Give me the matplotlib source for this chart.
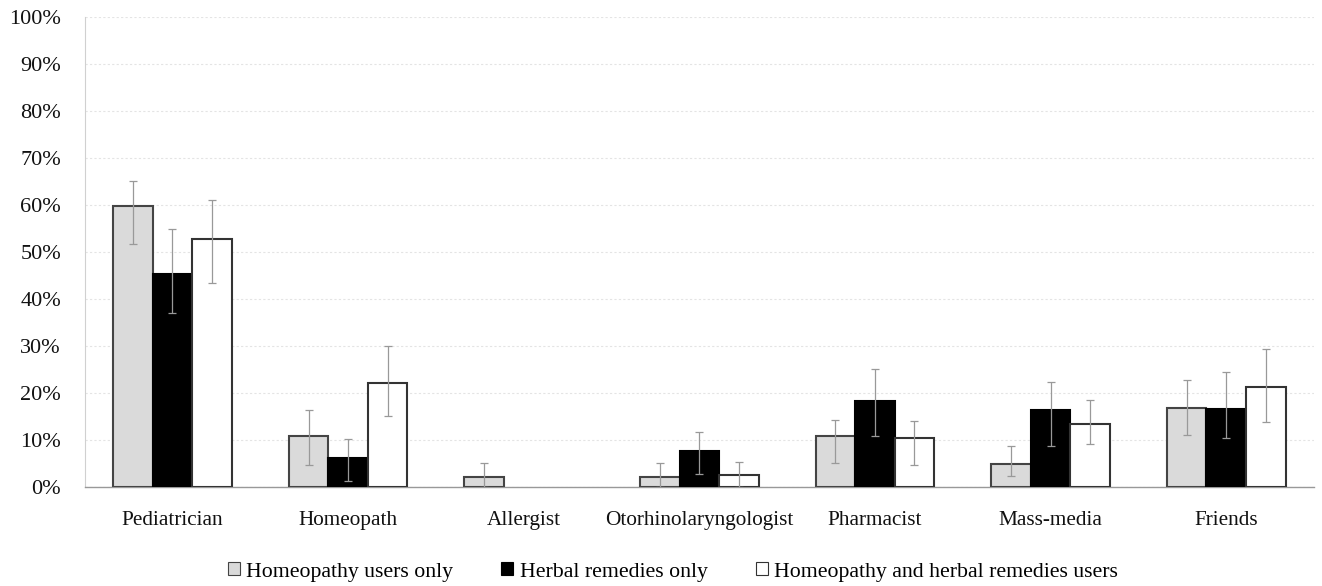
import numpy as np
import matplotlib.pyplot as plt
from matplotlib.ticker import PercentFormatter

categories = ["Pediatrician", "Homeopath", "Allergist", "Otorhinolaryngologist",
              "Pharmacist", "Mass-media", "Friends"]
series_names = ["Homeopathy users only", "Herbal remedies only",
                "Homeopathy and herbal remedies users"]

homeo = [59.8, 10.8, 2.1, 2.2, 10.8, 4.9, 16.9]
homeo_lo = [51.8, 4.7, 0.0, 0.0, 5.1, 2.4, 11.1]
homeo_hi = [65.2, 16.3, 5.1, 5.2, 14.3, 8.8, 22.7]

herbal = [45.4, 6.1, 0.0, 7.6, 18.3, 16.3, 16.5]
herbal_lo = [37.0, 1.3, 0.0, 2.8, 10.8, 8.8, 10.4]
herbal_hi = [54.9, 10.2, 0.0, 11.8, 25.2, 22.3, 24.5]

both = [52.7, 22.2, 0.0, 2.6, 10.4, 13.3, 21.3]
both_lo = [43.3, 15.2, 0.0, 0.0, 4.7, 9.1, 13.8]
both_hi = [61.0, 29.9, 0.0, 5.3, 14.0, 18.4, 29.3]

plt.rcParams["font.family"] = ["Liberation Serif", "DejaVu Serif"]

fig = plt.figure(figsize=(13.22, 5.86), dpi=100)
ax = fig.add_axes([0.064, 0.169, 0.93, 0.802])

x = np.arange(len(categories))
w = 0.225
colors = ["#dadada", "#000000", "#ffffff"]
edges = ["#444444", "#000000", "#333333"]
data = [(homeo, homeo_lo, homeo_hi), (herbal, herbal_lo, herbal_hi),
        (both, both_lo, both_hi)]

for i, (vals, lo, hi) in enumerate(data):
    vals = np.array(vals)
    lo = np.array(lo)
    hi = np.array(hi)
    pos = x + (i - 1) * w
    visible = vals > 0
    ax.bar(pos[visible], vals[visible], w, color=colors[i],
           edgecolor=edges[i], linewidth=1.5, label=series_names[i], zorder=3)
    has_err = hi > 0
    yerr = np.array([vals - lo, hi - vals])[:, has_err]
    ax.errorbar(pos[has_err], vals[has_err], yerr=yerr, fmt="none",
                ecolor="#999999", elinewidth=0.9, capsize=3, capthick=0.9,
                zorder=4)

ax.set_xlim(-0.5, len(categories) - 0.5)
ax.set_ylim(0, 100)
ax.set_yticks(np.arange(0, 101, 10))
ax.yaxis.set_major_formatter(PercentFormatter(decimals=0))
ax.set_xticks(x)
ax.set_xticklabels(categories)
ax.tick_params(axis="both", length=0, colors="#111111")
ax.tick_params(axis="x", pad=17, labelsize=15.3)
ax.tick_params(axis="y", pad=17, labelsize=16)
ax.grid(axis="y", color="#e4e4e4", linewidth=0.8, linestyle=(0, (2, 2)), zorder=0)

for side in ["right", "top"]:
    ax.spines[side].set_visible(False)
ax.spines["left"].set_color("#d0d0d0")
ax.spines["left"].set_linewidth(0.8)
ax.spines["bottom"].set_color("#999999")
ax.spines["bottom"].set_linewidth(1)

leg = fig.legend(*ax.get_legend_handles_labels(), loc="center",
                 bbox_to_anchor=(0.509, 0.024), ncol=3, frameon=False,
                 fontsize=15.7, handlelength=0.55, handleheight=0.55,
                 handletextpad=0.3, columnspacing=2.2, borderpad=0)
for h in leg.legend_handles:
    h.set_linewidth(0.8)

fig.savefig("out.png", dpi=100)
